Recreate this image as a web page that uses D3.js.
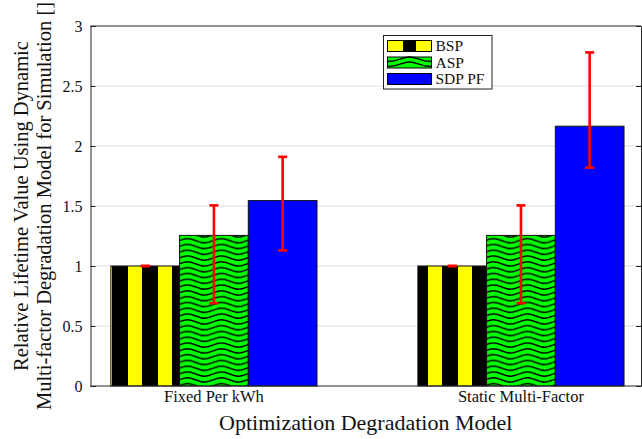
<!DOCTYPE html>
<html>
<head>
<meta charset="utf-8">
<script src="https://cdn.jsdelivr.net/npm/d3@7"></script>
<style>
  body { margin: 0; background: #fff; }
  svg { display: block; }
  text { font-family: "Liberation Serif", "Times New Roman", serif; fill: #111; }
</style>
</head>
<body>
<svg id="chart" width="642" height="439"></svg>
<script>
// Chart data
const categories = ["Fixed Per kWh", "Static Multi-Factor"];
const seriesNames = ["BSP", "ASP", "SDP PF"];
const bspValues = [1, 1];
const aspValues = [1.255, 1.255];
const sdpValues = [1.545, 2.165];
const bspLow = [1, 1];
const bspHigh = [1, 1];
const aspLow = [0.69, 0.69];
const aspHigh = [1.505, 1.505];
const sdpLow = [1.13, 1.82];
const sdpHigh = [1.91, 2.78];
const yTicks = [0, 0.5, 1, 1.5, 2, 2.5, 3];

const margins = { left: 90.5, right: 641, top: 26, bottom: 386 };
const svg = d3.select("#chart");

// Long-form rows for each bar
const rows = [];
categories.forEach((c, i) => {
  rows.push({ cat: i + 1, k: -1, s: "bsp", v: bspValues[i], lo: bspLow[i], hi: bspHigh[i] });
  rows.push({ cat: i + 1, k: 0, s: "asp", v: aspValues[i], lo: aspLow[i], hi: aspHigh[i] });
  rows.push({ cat: i + 1, k: 1, s: "sdp", v: sdpValues[i], lo: sdpLow[i], hi: sdpHigh[i] });
});

// Scales
const x = d3.scaleLinear().domain([0.598, 2.391]).range([margins.left, margins.right]);
const y = d3.scaleLinear().domain([0, 3]).range([margins.bottom, margins.top]);
const barW = 0.2238; // in x units

// Patterns
const defs = svg.append("defs");
const pBsp = defs.append("pattern")
  .attr("id", "bsp").attr("patternUnits", "userSpaceOnUse")
  .attr("x", 8).attr("y", 0).attr("width", 30).attr("height", 10);
pBsp.append("rect").attr("width", 30).attr("height", 10).attr("fill", "#000");
pBsp.append("rect").attr("width", 14).attr("height", 10).attr("fill", "#ffff00");

const pAsp = defs.append("pattern")
  .attr("id", "asp").attr("patternUnits", "userSpaceOnUse")
  .attr("x", 179).attr("y", 0).attr("width", 34).attr("height", 5.8);
pAsp.append("rect").attr("width", 34).attr("height", 5.8).attr("fill", "#00ff00");
pAsp.append("path")
  .attr("d", "M0,2.9 C8,0 9,0 17,2.9 C25,5.8 26,5.8 34,2.9")
  .attr("fill", "none").attr("stroke", "#000").attr("stroke-width", 1.4);

const fillOf = { bsp: "url(#bsp)", asp: "url(#asp)", sdp: "#0000ff" };

// Grid lines
svg.append("g")
  .selectAll("line")
  .data(yTicks.filter((d) => d > 0 && d < 3))
  .join("line")
  .attr("x1", margins.left).attr("x2", margins.right)
  .attr("y1", (d) => y(d)).attr("y2", (d) => y(d))
  .attr("stroke", "#dfdfdf").attr("stroke-width", 1);

// Bars
svg.append("g")
  .selectAll("rect")
  .data(rows)
  .join("rect")
  .attr("x", (d) => x(d.cat + d.k * barW - barW / 2))
  .attr("y", (d) => y(d.v))
  .attr("width", x(barW) - x(0))
  .attr("height", (d) => y(0) - y(d.v))
  .attr("fill", (d) => fillOf[d.s])
  .attr("stroke", "#111")
  .attr("stroke-width", 1);

// Error bars
const err = svg.append("g").attr("stroke", "#ff0000").attr("stroke-width", 2.6);
err.selectAll(".stem")
  .data(rows)
  .join("line")
  .attr("x1", (d) => x(d.cat + d.k * barW)).attr("x2", (d) => x(d.cat + d.k * barW))
  .attr("y1", (d) => y(d.lo)).attr("y2", (d) => y(d.hi));
err.selectAll(".capLo")
  .data(rows)
  .join("line")
  .attr("x1", (d) => x(d.cat + d.k * barW) - 4.5).attr("x2", (d) => x(d.cat + d.k * barW) + 4.5)
  .attr("y1", (d) => y(d.lo)).attr("y2", (d) => y(d.lo));
err.selectAll(".capHi")
  .data(rows)
  .join("line")
  .attr("x1", (d) => x(d.cat + d.k * barW) - 4.5).attr("x2", (d) => x(d.cat + d.k * barW) + 4.5)
  .attr("y1", (d) => y(d.hi)).attr("y2", (d) => y(d.hi));

// Axes
const axisColor = "#262626";
const yAxis = svg.append("g")
  .attr("transform", `translate(${margins.left},0)`)
  .call(d3.axisLeft(y).tickValues(yTicks).tickFormat((d) => d).tickSize(-5).tickPadding(8));
yAxis.selectAll("text")
  .attr("font-size", "16px")
  .attr("fill", "#111")
  .style("font-family", "Liberation Serif");
yAxis.selectAll("line,path").attr("stroke", axisColor);

const yAxisR = svg.append("g")
  .attr("transform", `translate(${margins.right},0)`)
  .call(d3.axisRight(y).tickValues(yTicks).tickFormat("").tickSize(-5));
yAxisR.selectAll("line,path").attr("stroke", axisColor);

// Top and bottom frame
svg.append("line")
  .attr("x1", margins.left).attr("x2", margins.right)
  .attr("y1", margins.top).attr("y2", margins.top)
  .attr("stroke", axisColor);
svg.append("line")
  .attr("x1", margins.left).attr("x2", margins.right)
  .attr("y1", margins.bottom).attr("y2", margins.bottom)
  .attr("stroke", axisColor).attr("stroke-width", 1.2);

// Category labels
svg.append("g")
  .selectAll("text")
  .data(categories)
  .join("text")
  .attr("x", (d, i) => x(i + 1))
  .attr("y", 402)
  .attr("text-anchor", "middle")
  .attr("font-size", "16.5px")
  .text((d) => d);

// X axis title
svg.append("text")
  .attr("x", (margins.left + margins.right) / 2)
  .attr("y", 430)
  .attr("text-anchor", "middle")
  .attr("font-size", "22px")
  .text("Optimization Degradation Model");

// Y axis title (two lines)
const yMid = (margins.top + margins.bottom) / 2;
[["Relative Lifetime Value Using Dynamic", 28], ["Multi-factor Degradation Model for Simulation []", 51]]
  .forEach(([t, bx]) => {
    svg.append("text")
      .attr("transform", `translate(${bx},${yMid}) rotate(-90)`)
      .attr("text-anchor", "middle")
      .attr("font-size", "20.5px")
      .text(t);
  });

// Legend
const legend = svg.append("g");
legend.append("rect")
  .attr("x", 383.5).attr("y", 35.5).attr("width", 108.5).attr("height", 53.5)
  .attr("fill", "#fff").attr("stroke", "#222").attr("stroke-width", 1);

const legRows = legend.selectAll("g")
  .data(seriesNames)
  .join("g")
  .attr("transform", (d, i) => `translate(387.5,${46 + i * 16.5})`);

// BSP swatch: yellow / black / yellow
const sw0 = d3.select(legRows.nodes()[0]);
sw0.append("rect").attr("x", 0).attr("y", -5.5).attr("width", 44).attr("height", 11).attr("fill", "#ffff00");
sw0.append("rect").attr("x", 15.5).attr("y", -5.5).attr("width", 13).attr("height", 11).attr("fill", "#000");
// ASP swatch: green with one wave
const sw1 = d3.select(legRows.nodes()[1]);
sw1.append("rect").attr("x", 0).attr("y", -5.5).attr("width", 44).attr("height", 11).attr("fill", "#00ff00");
sw1.append("path").attr("d", "M0,-1 C12,-1 14,-5.5 22,-5.5 C30,-5.5 32,-1 44,-1")
  .attr("fill", "none").attr("stroke", "#000").attr("stroke-width", 1.4);
sw1.append("path").attr("d", "M0,4 C12,4 14,-0.5 22,-0.5 C30,-0.5 32,4 44,4")
  .attr("fill", "none").attr("stroke", "#000").attr("stroke-width", 1.4);
// SDP swatch
const sw2 = d3.select(legRows.nodes()[2]);
sw2.append("rect").attr("x", 0).attr("y", -5.5).attr("width", 44).attr("height", 11).attr("fill", "#0000ff");

legRows.append("rect")
  .attr("x", 0).attr("y", -5.5).attr("width", 44).attr("height", 11)
  .attr("fill", "none").attr("stroke", "#000").attr("stroke-width", 1);

legRows.append("text")
  .attr("x", 48)
  .attr("y", 5)
  .attr("font-size", "15.5px")
  .text((d) => d);
</script>
</body>
</html>
